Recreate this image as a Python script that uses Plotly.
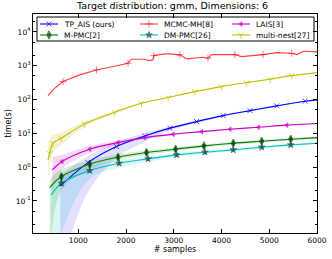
import plotly.graph_objects as go

# ---------------- data ----------------
tp_x = [623, 1203, 1799, 2392, 2917, 3477, 4036, 4596, 5156, 5750, 6000]
tp_y = [0.278, 1.36, 4.04, 8.37, 14.2, 22.2, 33.4, 47.0, 64.7, 89.1, 97.3]
tp_hi = [0.6, 2.1, 5.6, 10.2, 16.0, 24.0, 35.5, 49.5, 67.5, 92.5, 101.0]
tp_lo = [0.001, 0.18, 1.87, 5.6, 12.0, 20.0, 31.0, 44.5, 62.0, 86.0, 93.5]

mh_x = [363, 504, 678, 1028, 1379, 1700, 2042, 2113, 2392, 2462, 2560, 2581, 2812,
        2917, 3127, 3268, 3610, 3715, 3792, 4281, 4422, 4869, 5156, 5471, 5576, 5715, 6000]
mh_y = [130, 216, 339, 535, 751, 940, 1186, 1557, 1557, 1416, 1486, 1991, 2236,
        2236, 2088, 1590, 1784, 1667, 2130, 2130, 1858, 2130, 2442, 2344, 2130, 2685, 2560]
mh_mark_x = [678, 1379, 2042, 2581, 3127, 3715, 4281, 4869, 5471]

lais_x = [455, 657, 1238, 1832, 2392, 2986, 3582, 4176, 4770, 5366, 6000]
lais_y = [0.826, 1.46, 3.39, 5.31, 7.46, 9.40, 11.2, 13.2, 15.1, 17.4, 19.4]
lais_hi = [2.0, 2.3, 4.2, 6.1, 8.2, 10.1, 11.9, 13.9, 15.8, 18.1, 20.1]
lais_lo = [0.2, 0.85, 2.6, 4.5, 6.8, 8.8, 10.6, 12.6, 14.5, 16.8, 18.8]

mpmc_x = [399, 644, 1238, 1832, 2428, 3037, 3631, 4246, 4842, 5450, 6000]
mpmc_y = [0.247, 0.524, 1.22, 1.96, 2.69, 3.39, 4.24, 5.09, 5.83, 6.69, 7.46]
mpmc_hi = [0.45, 0.85, 1.6, 2.4, 3.1, 3.8, 4.7, 5.6, 6.4, 7.3, 8.1]
mpmc_lo = [0.001, 0.21, 0.85, 1.55, 2.3, 3.0, 3.8, 4.6, 5.3, 6.1, 6.8]
mpmc_err = [0.0, 0.1, 0.25, 0.35, 0.45, 0.5, 0.6, 0.7, 0.8, 0.9, 0.0]

dm_x = [434, 644, 1238, 1853, 2462, 3058, 3652, 4246, 4842, 5450, 6000]
dm_y = [0.151, 0.334, 0.787, 1.30, 1.75, 2.30, 2.76, 3.23, 3.88, 4.54, 5.09]
dm_hi = [0.3, 0.6, 1.1, 1.6, 2.05, 2.6, 3.05, 3.5, 4.2, 4.9, 5.45]
dm_lo = [0.001, 0.011, 0.45, 0.95, 1.45, 2.0, 2.45, 2.95, 3.55, 4.2, 4.75]
dm_err = [0.0, 0.05, 0.1, 0.15, 0.2, 0.25, 0.3, 0.35, 0.4, 0.45, 0.0]

mn_x = [363, 399, 468, 644, 1133, 1763, 2323, 2881, 3442, 4002, 4527, 5016, 5471, 6000]
mn_y = [1.63, 2.58, 5.09, 7.16, 19.0, 42.1, 77.8, 114, 171, 241, 316, 399, 509, 625]
mn_hi = [5.5, 6.5, 9, 10.5, 23, 46, 82, 119, 176, 246, 322, 405, 515, 632]
mn_lo = [0.5, 0.9, 2.6, 4.5, 15.5, 38, 74, 110, 166, 236, 310, 393, 503, 618]

x_ticks = [1000, 2000, 3000, 4000, 5000, 6000]
y_exps = [-1, 0, 1, 2, 3, 4]

FONT = "DejaVu Sans"
W, H = 332, 259
ML, MR, MT, MB = 33, 15, 14, 26
PW, PH = W - ML - MR, H - MT - MB

fig = go.Figure()


def band(x, hi, lo, color):
    fig.add_trace(go.Scatter(x=x, y=hi, mode="lines", line=dict(width=0, shape="spline"),
                             showlegend=False, hoverinfo="skip"))
    fig.add_trace(go.Scatter(x=x, y=lo, mode="lines", line=dict(width=0, shape="spline"),
                             fill="tonexty", fillcolor=color, showlegend=False, hoverinfo="skip"))


band(mn_x, mn_hi, mn_lo, "rgba(191,191,0,0.18)")
band(lais_x, lais_hi, lais_lo, "rgba(191,0,191,0.15)")
band(mpmc_x, mpmc_hi, mpmc_lo, "rgba(0,128,0,0.15)")
band(dm_x, dm_hi, dm_lo, "rgba(0,191,191,0.15)")
band(tp_x, tp_hi, tp_lo, "rgba(60,60,255,0.15)")

styles = []


def interior_sizes(x, s):
    return [0 if i in (0, len(x) - 1) else s for i in range(len(x))]


def series(name, x, y, color, symbol, msize, mcolor=None, shape="spline", sizes=None, err=None):
    mc = mcolor or color
    styles.append(dict(name=name, color=color, symbol=symbol, msize=msize, mcolor=mc))
    fig.add_trace(go.Scatter(
        x=x, y=y, name=name, mode="lines+markers", showlegend=False,
        line=dict(color=color, width=1.1, shape=shape),
        marker=dict(symbol=symbol, size=sizes if sizes is not None else interior_sizes(x, msize),
                    color=mc, line=dict(color=mc, width=1)),
        error_y=dict(type="data", array=err, color="#003000", thickness=1.5, width=0, visible=True)
        if err is not None else None,
    ))


series("TP_AIS (ours)", tp_x, tp_y, "#0000ff", "x-thin", 5)
series("MCMC-MH[8]", mh_x, mh_y, "rgba(255,0,0,0.75)", "cross-thin", 5, shape="linear",
       sizes=[5 if v in mh_mark_x else 0 for v in mh_x])
series("LAIS[3]", lais_x, lais_y, "#cc00cc", "triangle-left", 4)
series("M-PMC[2]", mpmc_x, mpmc_y, "#008000", "diamond-tall", 6, mcolor="#004d00", err=mpmc_err)
series("DM-PMC[26]", dm_x, dm_y, "#00bfbf", "star", 5, mcolor="#1f4f4f", err=dm_err)
series("multi-nest[27]", mn_x, mn_y, "#bfbf00", "y-down-open", 5)

# ---------------- legend drawn on an overlay axis (pixel-based layout) ----------------
def px_x(p):
    return (p - ML) / PW


def px_y(p):
    return (H - MB - p) / PH


box_l, box_r, box_t, box_b = 37, 314, 17, 41
fig.add_trace(go.Scatter(
    x=[px_x(box_l), px_x(box_r), px_x(box_r), px_x(box_l), px_x(box_l)],
    y=[px_y(box_t), px_y(box_t), px_y(box_b), px_y(box_b), px_y(box_t)],
    xaxis="x2", yaxis="y2", mode="lines", fill="toself", fillcolor="white",
    line=dict(color="black", width=1), showlegend=False, hoverinfo="skip"))

col_line_x = [40, 140, 232]
row_y = [24, 35]
for i, st in enumerate(styles):
    c, r = i % 3, i // 3
    x0 = col_line_x[c]
    yy = px_y(row_y[r])
    fig.add_trace(go.Scatter(
        x=[px_x(x0), px_x(x0 + 9), px_x(x0 + 18)], y=[yy, yy, yy],
        xaxis="x2", yaxis="y2", mode="lines+markers", showlegend=False, hoverinfo="skip",
        line=dict(color=st["color"], width=1.1),
        marker=dict(symbol=st["symbol"], size=[0, st["msize"], 0], color=st["mcolor"],
                    line=dict(color=st["mcolor"], width=1))))
    fig.add_annotation(x=px_x(x0 + 22), y=yy, xref="x2", yref="y2", text=st["name"],
                       showarrow=False, xanchor="left", yanchor="middle",
                       font=dict(family=FONT, size=7.5, color="black"))

axis_common = dict(showline=True, linecolor="black", linewidth=1, mirror="allticks",
                   ticks="inside", ticklen=4, tickcolor="black", showgrid=False, zeroline=False,
                   automargin=False,
                   tickfont=dict(family=FONT, size=7.5, color="black"))

fig.update_layout(
    xaxis=dict(range=[50, 6000], tickvals=x_ticks, ticktext=[str(v) for v in x_ticks],
               title=dict(text="# samples", font=dict(family=FONT, size=8, color="black"),
                          standoff=2),
               **axis_common),
    yaxis=dict(type="log", range=[-1.95, 4.53],
               tickvals=[10.0 ** e for e in y_exps],
               ticktext=["10<sup>%d</sup>" % e for e in y_exps],
               minor=dict(ticks="inside", ticklen=2, tickcolor="black", showgrid=False),
               title=dict(text="time(s)", font=dict(family=FONT, size=8, color="black"),
                          standoff=2),
               **axis_common),
    xaxis2=dict(overlaying="x", range=[0, 1], visible=False, fixedrange=True),
    yaxis2=dict(overlaying="y", range=[0, 1], visible=False, fixedrange=True),
    width=W, height=H,
    margin=dict(l=ML, r=MR, t=MT, b=MB),
    paper_bgcolor="white", plot_bgcolor="white",
    title=dict(text="Target distribution: gmm, Dimensions: 6", x=0.52, xanchor="center",
               y=0.99, yanchor="top", font=dict(family=FONT, size=9.5, color="black")),
    showlegend=False,
)

fig.write_html("out.html", config={"displayModeBar": False},
               post_script="document.body.style.margin='0';")
